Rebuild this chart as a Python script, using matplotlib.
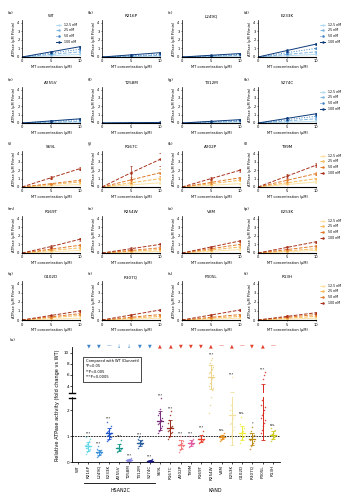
import numpy as np
import matplotlib.pyplot as plt
from matplotlib.lines import Line2D

# %% Data
hsan_mut = ['R216P', 'L249Q', 'E233K', 'A255V', 'T258M', 'T312M', 'S274C']
kand_mut = ['S69L', 'R167C', 'A202P', 'T99M', 'R169T', 'R254W',
            'V8M', 'E253K', 'G102D', 'R307Q', 'P305L', 'R13H']
panel_titles = ['WT'] + hsan_mut + kand_mut
panel_letters = list('abcdefghijklmnopqrst')

conc_labels = ['12.5 nM', '25 nM', '50 nM', '100 nM']
mt_conc = [0, 5, 10]

# rate at the middle and last MT concentration, one row per panel, four motor concentrations
rate_mid = [
    [0.15, 0.3, 0.45, 0.6], [0.05, 0.1, 0.15, 0.25], [0.05, 0.1, 0.15, 0.2], [0.15, 0.3, 0.5, 0.75],
    [0.05, 0.1, 0.2, 0.25], [0.01, 0.02, 0.03, 0.04], [0.05, 0.1, 0.15, 0.2], [0.1, 0.25, 0.4, 0.55],
    [0.15, 0.3, 0.4, 1.1], [0.25, 0.5, 0.85, 1.7], [0.2, 0.4, 0.55, 1.0], [0.3, 0.5, 0.8, 1.3],
    [0.15, 0.3, 0.45, 0.75], [0.1, 0.2, 0.3, 0.5], [0.2, 0.35, 0.5, 0.7], [0.15, 0.25, 0.4, 0.65],
    [0.1, 0.25, 0.35, 0.5], [0.1, 0.2, 0.3, 0.55], [0.1, 0.2, 0.3, 0.55], [0.1, 0.2, 0.3, 0.4],
]
rate_end = [
    [0.3, 0.6, 0.9, 1.2], [0.1, 0.2, 0.3, 0.5], [0.1, 0.2, 0.3, 0.4], [0.3, 0.6, 1.0, 1.5],
    [0.1, 0.2, 0.4, 0.5], [0.02, 0.03, 0.05, 0.07], [0.1, 0.2, 0.3, 0.4], [0.2, 0.5, 0.8, 1.1],
    [0.3, 0.6, 0.8, 2.2], [0.5, 1.0, 1.7, 3.3], [0.4, 0.8, 1.1, 2.0], [0.6, 1.0, 1.6, 2.6],
    [0.3, 0.6, 0.9, 1.6], [0.2, 0.4, 0.6, 1.0], [0.4, 0.7, 1.0, 1.4], [0.3, 0.5, 0.8, 1.3],
    [0.2, 0.5, 0.7, 1.0], [0.2, 0.4, 0.6, 1.1], [0.2, 0.4, 0.6, 1.1], [0.2, 0.4, 0.6, 0.8],
]
rate_sd = [
    [0.05, 0.05, 0.08, 0.1], [0.02, 0.03, 0.04, 0.08], [0.02, 0.03, 0.03, 0.05], [0.05, 0.08, 0.1, 0.15],
    [0.02, 0.03, 0.05, 0.08], [0.01, 0.01, 0.01, 0.02], [0.02, 0.03, 0.04, 0.08], [0.04, 0.06, 0.1, 0.15],
    [0.05, 0.1, 0.1, 0.2], [0.1, 0.2, 0.4, 0.8], [0.05, 0.1, 0.15, 0.2], [0.08, 0.1, 0.15, 0.25],
    [0.05, 0.08, 0.1, 0.15], [0.03, 0.05, 0.08, 0.15], [0.05, 0.08, 0.1, 0.15], [0.05, 0.06, 0.1, 0.15],
    [0.03, 0.05, 0.08, 0.1], [0.03, 0.05, 0.08, 0.12], [0.03, 0.05, 0.08, 0.12], [0.03, 0.05, 0.06, 0.1],
]

# fold change vs WT, one list per mutant
fold_hsan = [
    [0.32, 0.38, 0.42, 0.45, 0.5, 0.52, 0.55, 0.58, 0.6, 0.62, 0.65, 0.7, 0.75, 0.8, 0.88, 0.98],
    [0.2, 0.25, 0.28, 0.3, 0.33, 0.35, 0.37, 0.4, 0.42, 0.45, 0.5, 0.6],
    [0.8, 0.85, 0.9, 0.95, 0.98, 1.0, 1.02, 1.05, 1.08, 1.1, 1.15, 1.2, 1.25, 1.3, 1.4, 1.55],
    [0.38, 0.42, 0.45, 0.48, 0.5, 0.52, 0.55, 0.6, 0.68, 0.85],
    [0.02, 0.03, 0.04, 0.05, 0.06, 0.07, 0.08, 0.1, 0.12, 0.15],
    [0.55, 0.6, 0.65, 0.68, 0.7, 0.72, 0.75, 0.78, 0.8, 0.85, 0.9, 0.95],
    [0.0, 0.01, 0.02, 0.02, 0.03, 0.03, 0.04, 0.05, 0.07, 0.1],
]
fold_kand = [
    [1.1, 1.2, 1.25, 1.3, 1.4, 1.45, 1.5, 1.55, 1.6, 1.7, 1.8, 1.9, 2.05, 2.45],
    [0.9, 0.95, 1.0, 1.1, 1.15, 1.2, 1.25, 1.3, 1.35, 1.4, 1.5, 1.6, 1.8, 1.95],
    [0.4, 0.45, 0.5, 0.55, 0.6, 0.65, 0.68, 0.7, 0.75, 0.8, 0.85, 1.0],
    [0.58, 0.62, 0.65, 0.68, 0.7, 0.72, 0.75, 0.78, 0.82, 0.9, 1.0],
    [0.72, 0.76, 0.8, 0.82, 0.85, 0.88, 0.9, 0.95, 1.05, 1.2],
    [1.9, 2.2, 2.5, 3.3, 3.6, 4.0, 4.5, 5.0, 5.5, 6.0, 6.3, 6.5, 6.8, 7.0, 7.5, 7.8, 8.2, 8.6, 9.1],
    [0.82, 0.86, 0.9, 0.92, 0.95, 0.97, 1.0, 1.02, 1.05, 1.1],
    [0.95, 1.05, 1.15, 1.25, 1.35, 1.45, 1.5, 1.6, 1.7, 1.8, 2.0, 2.2, 5.6],
    [0.75, 0.85, 0.9, 0.95, 1.0, 1.05, 1.1, 1.15, 1.2, 1.3, 1.45, 1.75],
    [0.5, 0.6, 0.7, 0.75, 0.8, 0.85, 0.9, 0.95, 1.0, 1.05, 1.1, 1.2, 1.35],
    [1.1, 1.25, 1.4, 1.5, 1.6, 1.7, 1.8, 1.9, 2.0, 2.1, 2.2, 2.4, 5.3, 6.0, 6.5],
    [0.8, 0.88, 0.92, 0.96, 1.0, 1.04, 1.08, 1.12, 1.18, 1.25, 1.32],
]
sig_hsan = ['***'] * 7
sig_kand = ['***', '***', '***', '***', '***', '***', 'n.s.', '***', 'n.s.', '*', '***', 'n.s.']
trend_hsan = ['▼', '▼', '—', '↓', '↓', '▼', '▼']
trend_kand = ['▲', '▲', '▼', '▼', '▼', '▲', '—', '▲', '—', '▼', '▲', '—']

# %% Styles
hsan_colors = ['#62d8e8', '#3b8fd9', '#1e56d0', '#17998a', '#8a88e0', '#2a5fa0', '#1a1a80']
kand_colors = ['#782878', '#9a2a18', '#f07878', '#e05aa0', '#e8402a', '#ecd38a',
               '#e8901e', '#f2e2a0', '#f0ec3a', '#b88a12', '#d82a1e', '#cfc81e']
blues = ['#b9dcf0', '#7fb6e0', '#3b7fc4', '#0d3a7a']
oranges = ['#fde3a7', '#f7b955', '#e07b2a', '#a8321c']
blue_ls = ['-', '--', ':', '-']
orange_ls = ['-', '--', '--', '--']

W, H = 344, 500
fig = plt.figure(figsize=(W / 100, H / 100), dpi=100)
fs = 2.6


def px_box(x0, y0, x1, y1):
    return [x0 / W, 1 - y1 / H, (x1 - x0) / W, (y1 - y0) / H]


col_x = [22, 102, 182, 258]
row_y = [(20, 57), (87, 123), (151, 187), (216, 253), (281, 320)]

# %% Small kinetics panels
for i in range(20):
    r, c = divmod(i, 4)
    x0 = col_x[c]
    y0, y1 = row_y[r]
    ax = fig.add_axes(px_box(x0, y0, x0 + 58, y1))
    cols = blues if i < 8 else oranges
    styles = blue_ls if i < 8 else orange_ls
    for k in range(4):
        ys = [0, rate_mid[i][k], rate_end[i][k]]
        ax.errorbar(mt_conc[1:], ys[1:], yerr=rate_sd[i][k], fmt='none',
                    ecolor=cols[k], elinewidth=0.5, capsize=0.8, capthick=0.5)
        ax.plot(mt_conc, ys, ls=styles[k], color=cols[k], lw=0.7,
                marker='o', ms=0.8, label=conc_labels[k])
    ax.set_xlim(0, 10)
    ax.set_ylim(0, 4.3)
    ax.set_xticks(mt_conc)
    ax.set_yticks([0, 1, 2, 3, 4])
    ax.tick_params(labelsize=fs, length=1, width=0.4, pad=0.8)
    for s in ['top', 'right']:
        ax.spines[s].set_visible(False)
    ax.spines['left'].set_linewidth(0.5)
    ax.spines['bottom'].set_linewidth(0.8)
    ax.set_title(panel_titles[i], fontsize=3, pad=2)
    ax.set_xlabel('MT concentration (µM)', fontsize=fs, labelpad=1)
    ax.set_ylabel('ATPase (µM Pi/min)', fontsize=fs, labelpad=1)
    fig.text((x0 - 14) / W, 1 - (y0 - 7) / H, f'({panel_letters[i]})',
             fontsize=3, va='center')
    if i == 0:
        ax.legend(fontsize=2.3, frameon=False, loc='upper right',
                  handlelength=1.6, labelspacing=0.5)
    if c == 3:
        ax.legend(fontsize=2.3, frameon=False, loc='upper left',
                  bbox_to_anchor=(1.02, 1.0), handlelength=1.6, labelspacing=0.5)

# %% Fold change panel (broken y axis)
ax_hi = fig.add_axes(px_box(72, 347, 280, 393))
ax_lo = fig.add_axes(px_box(72, 397, 280, 462))

names = ['WT'] + hsan_mut + kand_mut
groups = fold_hsan + fold_kand
colors = hsan_colors + kand_colors
sigs = sig_hsan + sig_kand
trends = trend_hsan + trend_kand
positions = np.arange(1, len(names))

for ax in (ax_hi, ax_lo):
    for p, vals, col in zip(positions, groups, colors):
        vals = np.array(vals)
        order = np.argsort(np.argsort(vals))
        off = ((order % 5) - 2) * 0.1
        ax.scatter(p + off, vals, s=1.2, color=col, alpha=0.85, lw=0, zorder=2)
        m, sd = vals.mean(), vals.std()
        ax.errorbar(p, m, yerr=sd, fmt='none', ecolor=col, elinewidth=0.7,
                    capsize=1.2, capthick=0.6, zorder=3)
        ax.plot([p - 0.3, p + 0.3], [m, m], color=col, lw=0.9, zorder=3)
    ax.set_xlim(-0.6, 19.7)
    ax.tick_params(labelsize=3, length=1.2, width=0.5, pad=1)
    ax.spines['right'].set_visible(False)
    ax.spines['left'].set_linewidth(0.6)

ax_lo.set_ylim(0, 2.5)
ax_lo.set_yticks([0, 1, 2])
ax_lo.spines['top'].set_visible(False)
ax_lo.spines['bottom'].set_linewidth(0.6)
ax_lo.axhline(1, color='k', ls=(0, (2, 1.2)), lw=0.6, zorder=1)
ax_lo.set_xticks(np.arange(len(names)))
ax_lo.set_xticklabels(names, rotation=90, fontsize=3)

ax_hi.set_ylim(2.75, 11)
ax_hi.set_yticks([4, 6, 8, 10])
ax_hi.spines['top'].set_visible(False)
ax_hi.spines['bottom'].set_visible(False)
ax_hi.set_xticks([])

# significance labels above each column
for p, vals, s in zip(positions, groups, sigs):
    top = max(vals)
    if top > 2.5:
        ax_hi.text(p, top + 0.2, s, fontsize=2.4, ha='center', va='bottom')
    else:
        ax_lo.text(p, top + 0.04, s, fontsize=2.4, ha='center', va='bottom')

# direction markers along the top
for p, t, idx in zip(positions, trends, range(len(trends))):
    col = '#3f86c9' if idx < 7 else '#e2422b'
    ax_hi.text(p, 1.02, t, transform=ax_hi.get_xaxis_transform(), fontsize=3.5,
               color=col, ha='center', va='center', clip_on=False)

ax_hi.text(0.065, 0.74, 'Compared with WT (Dunnett)\n*P<0.05\n**P<0.005\n***P<0.0005',
           transform=ax_hi.transAxes, fontsize=2.6, va='top', ha='left', linespacing=1.5,
           bbox=dict(boxstyle='square,pad=0.6', fc='white', ec='black', lw=0.5))

# break marks on the y axis
for yb in (392.5, 397.5):
    fig.add_artist(Line2D([69 / W, 75 / W], [1 - yb / H, 1 - yb / H],
                          color='black', lw=1.0))

fig.text(58 / W, 1 - 405 / H, 'Relative ATPase activity (fold change vs WT)',
         rotation=90, fontsize=3.6, ha='center', va='center')
fig.text(10 / W, 1 - 340 / H, '(u)', fontsize=3, va='center')

# group brackets under the tick labels
fig.add_artist(Line2D([84 / W, 155 / W], [1 - 483 / H, 1 - 483 / H], color='black', lw=0.6))
fig.text(120 / W, 1 - 491 / H, 'HSAN2C', fontsize=3.4, ha='center', va='center')
fig.text(215 / W, 1 - 491 / H, 'KAND', fontsize=3.4, ha='center', va='center')

fig.savefig('out.png', dpi=100)
